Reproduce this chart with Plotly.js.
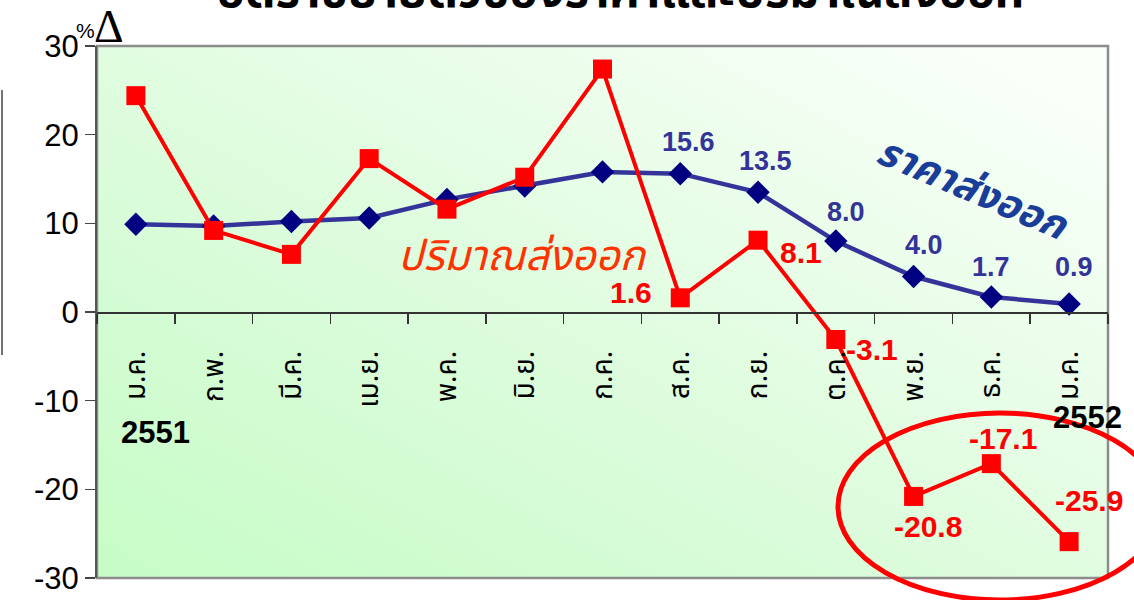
<!DOCTYPE html>
<html>
<head>
<meta charset="utf-8">
<script src="https://cdn.plot.ly/plotly-3.0.1.min.js"></script>
<style>
html,body{margin:0;padding:0;background:#fff;}
#chart{width:1134px;height:600px;}
</style>
</head>
<body>
<div id="chart"></div>
<script>
// ---- data ----
const months = ['ม.ค.','ก.พ.','มี.ค.','เม.ย.','พ.ค.','มิ.ย.','ก.ค.','ส.ค.','ก.ย.','ต.ค.','พ.ย.','ธ.ค.','ม.ค.'];
const priceGrowth = [9.9, 9.7, 10.2, 10.6, 12.7, 14.2, 15.8, 15.6, 13.5, 8.0, 4.0, 1.7, 0.9];     // ราคาส่งออก
const volumeGrowth = [24.4, 9.2, 6.5, 17.3, 11.6, 15.2, 27.4, 1.6, 8.1, -3.1, -20.8, -17.1, -25.9]; // ปริมาณส่งออก
const priceLabelIdx = [7, 8, 9, 10, 11, 12];
const volumeLabelIdx = [7, 8, 9, 10, 11, 12];
const yearLabels = ['2551', '2552'];
const yTicks = [-30, -20, -10, 0, 10, 20, 30];
const yTickText = ['-30', '-20', '-10', '0', '10', '20', '30'];
const titleText = 'อัตราขยายตัวของราคาและปริมาณส่งออก';

// ---- styles (label offsets in px) ----
const priceLabelOffsets = [[8,-32],[7,-31],[10,-29],[10,-32],[0,-30],[5,-37]];
const volumeLabelOffsets = [[-49,-5],[43,12],[36,10],[14,30],[12,-25],[20,-41]];

const xIdx = months.map((_, i) => i);

// gradient background image
const cv = document.createElement('canvas');
cv.width = 1011; cv.height = 532;
const ctx = cv.getContext('2d');
const g = ctx.createLinearGradient(0, 532, 420, -260);
g.addColorStop(0, '#c6fcc6');
g.addColorStop(0.45, '#dcfcdc');
g.addColorStop(1, '#fafffa');
ctx.fillStyle = g;
ctx.fillRect(0, 0, 1011, 532);
const bgSrc = cv.toDataURL();

const traces = [
  {
    x: xIdx, y: priceGrowth, type: 'scatter', mode: 'lines+markers',
    line: {color: '#333399', width: 4.5},
    marker: {symbol: 'diamond', size: 18, color: '#000080'},
    cliponaxis: false, hoverinfo: 'skip'
  },
  {
    x: xIdx, y: volumeGrowth, type: 'scatter', mode: 'lines+markers',
    line: {color: '#ff0000', width: 4},
    marker: {symbol: 'square', size: 19, color: '#ff0000'},
    cliponaxis: false, hoverinfo: 'skip'
  }
];

const C = {xanchor: 'center', yanchor: 'middle', showarrow: false};
const annotations = [];
priceLabelIdx.forEach((idx, k) => {
  annotations.push(Object.assign({}, C, {
    x: idx, y: priceGrowth[idx], xref: 'x', yref: 'y',
    text: priceGrowth[idx].toFixed(1),
    xshift: priceLabelOffsets[k][0], yshift: -priceLabelOffsets[k][1],
    font: {family: 'Arial, Liberation Sans, sans-serif', size: 27, color: '#333399', weight: 'bold'}
  }));
});
volumeLabelIdx.forEach((idx, k) => {
  annotations.push(Object.assign({}, C, {
    x: idx, y: volumeGrowth[idx], xref: 'x', yref: 'y',
    text: volumeGrowth[idx].toFixed(1),
    xshift: volumeLabelOffsets[k][0], yshift: -volumeLabelOffsets[k][1],
    font: {family: 'Arial, Liberation Sans, sans-serif', size: 30, color: '#ff0000', weight: 'bold'}
  }));
});
function px(xp) { return (xp - 97) / 1011; }
function py(yp) { return (578 - yp) / 532; }
// series names
annotations.push(Object.assign({}, C, {
  xref: 'paper', yref: 'paper', x: px(522), y: py(257),
  text: 'ปริมาณส่งออก',
  font: {family: 'Tahoma, Noto Sans Thai, sans-serif', size: 42, color: '#ff3300', style: 'italic'}
}));
annotations.push(Object.assign({}, C, {
  xref: 'paper', yref: 'paper', x: px(972), y: py(190),
  text: 'ราคาส่งออก', textangle: 23,
  font: {family: 'Tahoma, Noto Sans Thai, sans-serif', size: 40, color: '#1a3d99', style: 'italic', weight: 'bold'}
}));
// years
annotations.push(Object.assign({}, C, {
  xref: 'paper', yref: 'paper', x: px(155), y: py(432),
  text: yearLabels[0],
  font: {family: 'Arial, Liberation Sans, sans-serif', size: 31, color: '#000', weight: 'bold'}
}));
annotations.push(Object.assign({}, C, {
  xref: 'paper', yref: 'paper', x: px(1087), y: py(417),
  text: yearLabels[1],
  font: {family: 'Arial, Liberation Sans, sans-serif', size: 31, color: '#000', weight: 'bold'}
}));
// %Δ unit
annotations.push(Object.assign({}, C, {
  xref: 'paper', yref: 'paper', x: px(85), y: py(30),
  text: '%',
  font: {family: 'Arial, Liberation Sans, sans-serif', size: 21, color: '#000'}
}));
annotations.push(Object.assign({}, C, {
  xref: 'paper', yref: 'paper', x: px(109), y: py(27),
  text: 'Δ',
  font: {family: 'Liberation Serif, Times New Roman, serif', size: 46, color: '#000'}
}));
// title (cut off at top)
annotations.push({
  xref: 'paper', yref: 'paper', x: px(620), y: py(-8),
  xanchor: 'center', yanchor: 'middle', showarrow: false,
  text: '<b>' + titleText + '</b>',
  font: {family: 'Tahoma, Noto Sans Thai, sans-serif', size: 47, color: '#000'}
});

const layout = {
  width: 1134, height: 600,
  margin: {l: 97, r: 26, t: 46, b: 22},
  paper_bgcolor: '#ffffff',
  plot_bgcolor: 'rgba(0,0,0,0)',
  showlegend: false,
  images: [{source: bgSrc, xref: 'paper', yref: 'paper', x: 0, y: 1, sizex: 1, sizey: 1,
            xanchor: 'left', yanchor: 'top', sizing: 'stretch', layer: 'below'}],
  xaxis: {
    range: [-0.5, 12.5], anchor: 'free', position: 0.5,
    showgrid: false, zeroline: false,
    showline: true, linecolor: '#333', linewidth: 1.5,
    tickmode: 'array', tickvals: xIdx, ticktext: months, ticks: '',
    tickangle: -90, ticklabelstandoff: 26,
    tickfont: {family: 'Tahoma, Noto Sans Thai, sans-serif', size: 28, color: '#000'},
    minor: {tick0: -0.5, dtick: 1, ticks: 'outside', ticklen: 10, tickwidth: 1.5, tickcolor: '#333', showgrid: false}
  },
  yaxis: {
    range: [-30, 30], tickmode: 'array', tickvals: yTicks, ticktext: yTickText,
    showgrid: false, zeroline: false,
    showline: true, linecolor: '#555', linewidth: 2,
    ticks: 'outside', ticklen: 10, tickwidth: 1.5, tickcolor: '#444',
    tickfont: {family: 'Arial, Liberation Sans, sans-serif', size: 31, color: '#000'}
  },
  shapes: [
    {type: 'rect', xref: 'paper', yref: 'paper', x0: 0, x1: 1, y0: 0, y1: 1,
     line: {color: '#8c8c8c', width: 2.5}, layer: 'below'},
    {type: 'line', xref: 'paper', yref: 'paper', x0: px(2), x1: px(2),
     y0: py(90), y1: py(355), line: {color: '#444', width: 1.5}},
    {type: 'circle', xref: 'paper', yref: 'paper',
     x0: px(838), x1: px(1162), y0: py(600), y1: py(413),
     line: {color: '#ff0000', width: 5}}
  ],
  annotations: annotations
};

Plotly.newPlot('chart', traces, layout, {staticPlot: true});
</script>
</body>
</html>
